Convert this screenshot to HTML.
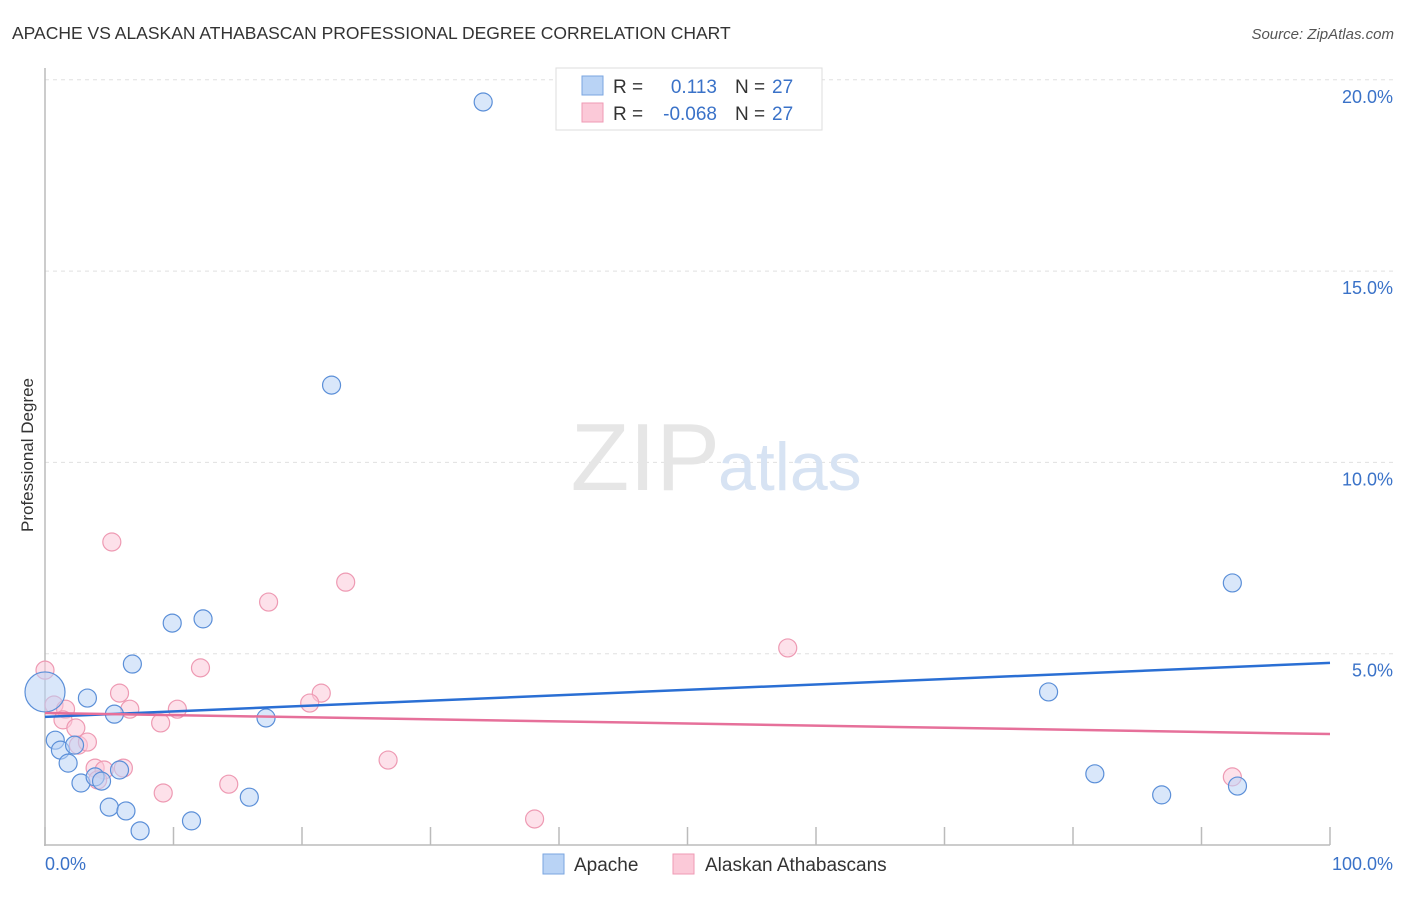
<!DOCTYPE html>
<html><head><meta charset="utf-8"><style>
body{margin:0;background:#fff;font-family:"Liberation Sans",sans-serif;}
svg text{font-family:"Liberation Sans",sans-serif;}
</style></head><body>
<svg width="1406" height="892" viewBox="0 0 1406 892">
<text x="12" y="39" font-size="17.5" fill="#333">APACHE VS ALASKAN ATHABASCAN PROFESSIONAL DEGREE CORRELATION CHART</text>
<text x="1394" y="39" font-size="15" fill="#555" font-style="italic" text-anchor="end">Source: ZipAtlas.com</text>
<text transform="translate(33,455) rotate(-90)" font-size="17" fill="#333" text-anchor="middle">Professional Degree</text>
<g id="grid"></g>
<text x="720" y="490" font-size="96" fill="#e6e6e6" text-anchor="end" font-family="Liberation Serif">ZIP</text>
<text x="718" y="490" font-size="68" fill="#d7e3f3">atlas</text>
<g id="pts"></g>
<g id="lines"></g>
<g>
<rect x="556" y="68" width="266" height="62" fill="#fff" stroke="#ddd"/>
<rect x="582" y="76" width="21" height="19" fill="#b9d3f5" stroke="#7aa6e0"/>
<rect x="582" y="103" width="21" height="19" fill="#fbc9d8" stroke="#ef9ab4"/>
<text x="613" y="93" font-size="19" fill="#333">R =</text>
<text x="717" y="93" font-size="19" fill="#3a72c8" text-anchor="end">0.113</text>
<text x="735" y="93" font-size="19" fill="#333">N =</text>
<text x="772" y="93" font-size="19" fill="#3a72c8">27</text>
<text x="613" y="120" font-size="19" fill="#333">R =</text>
<text x="717" y="120" font-size="19" fill="#3a72c8" text-anchor="end">-0.068</text>
<text x="735" y="120" font-size="19" fill="#333">N =</text>
<text x="772" y="120" font-size="19" fill="#3a72c8">27</text>
</g>
<g>
<rect x="543" y="854" width="21" height="20" fill="#b9d3f5" stroke="#7aa6e0"/>
<text x="574" y="871" font-size="19" fill="#333">Apache</text>
<rect x="673" y="854" width="21" height="20" fill="#fbc9d8" stroke="#ef9ab4"/>
<text x="705" y="871" font-size="19" fill="#333">Alaskan Athabascans</text>
</g>
<text x="45" y="870" font-size="18" fill="#3a72c8">0.0%</text>
<text x="1393" y="870" font-size="18" fill="#3a72c8" text-anchor="end">100.0%</text>
</svg>
<script>
const yTicks=[5,10,15,20];
const yTickLabels=["5.0%","10.0%","15.0%","20.0%"];
const xTicks=[0,10,20,30,40,50,60,70,80,90,100];
const apacheX=[34.1,22.3,92.4,12.3,9.9,6.8,0,3.3,5.4,17.2,78.1,0.8,1.2,2.3,1.8,2.8,3.9,4.4,5.8,81.7,15.9,86.9,92.8,5.0,6.3,11.4,7.4];
const apacheY=[19.42,12.02,6.85,5.91,5.80,4.73,4.0,3.84,3.42,3.32,4.0,2.74,2.48,2.61,2.14,1.62,1.78,1.67,1.96,1.86,1.25,1.31,1.54,0.99,0.89,0.63,0.37];
const athX=[5.2,23.4,17.4,57.8,0,12.1,5.8,21.5,20.6,0.7,1.6,6.6,10.3,1.4,2.4,9.0,2.6,3.3,26.7,3.9,4.6,6.1,4.1,14.3,9.2,92.4,38.1];
const athY=[7.92,6.87,6.35,5.15,4.57,4.63,3.97,3.97,3.71,3.66,3.55,3.55,3.55,3.27,3.06,3.19,2.61,2.69,2.22,2.01,1.96,2.01,1.70,1.59,1.36,1.78,0.68];
const apacheTrend=[3.35,4.76];
const athTrend=[3.45,2.90];
const NS="http://www.w3.org/2000/svg";
const xs=v=>45+v*12.85;
const ys=v=>845-v*38.26;
function mk(tag,attrs,parent){const e=document.createElementNS(NS,tag);for(const k in attrs)e.setAttribute(k,attrs[k]);parent.appendChild(e);return e;}
const grid=document.getElementById('grid');
yTicks.forEach((t,i)=>{
 const l=mk('line',{x1:45,x2:1393,y1:ys(t),y2:ys(t),stroke:'#e0e0e0','stroke-dasharray':'4,4'},grid);
 
 
 const tx=mk('text',{x:1393,y:ys(t)+23,'font-size':18,fill:'#3a72c8','text-anchor':'end'},grid);
 tx.textContent=yTickLabels[i];
 
 
});
const ax=mk('line',{x1:45,x2:45,y1:68,y2:846,stroke:'#bbb','stroke-width':1.5},grid);


const bx=mk('line',{x1:44,x2:1330,y1:845,y2:845,stroke:'#bbb','stroke-width':1.5},grid);


xTicks.forEach(t=>{
 const l=mk('line',{x1:xs(t),x2:xs(t),y1:827,y2:845,stroke:'#bbb','stroke-width':1.5},grid);
 
 
});
const pts=document.getElementById('pts');
function series(X,Y,fill,stroke,name){
 X.forEach((x,i)=>{
  const r=(x===0&&Y[i]===4.0)?20:9;
  const c=mk('circle',{cx:xs(x),cy:ys(Y[i]),r:r,fill:fill,'fill-opacity':0.55,stroke:stroke,'stroke-width':1.2},pts);
  
  
 });
}
series(athX,athY,'#fbc9d8','#ee9ab3','point-athabascan');
series(apacheX,apacheY,'#b9d3f5','#5b8fd8','point-apache');
const lines=document.getElementById('lines');
const l1=mk('line',{x1:xs(0),x2:xs(100),y1:ys(apacheTrend[0]),y2:ys(apacheTrend[1]),stroke:'#2a6fd4','stroke-width':2.5},lines);


const l2=mk('line',{x1:xs(0),x2:xs(100),y1:ys(athTrend[0]),y2:ys(athTrend[1]),stroke:'#e6709a','stroke-width':2.5},lines);


</script>
</body></html>
